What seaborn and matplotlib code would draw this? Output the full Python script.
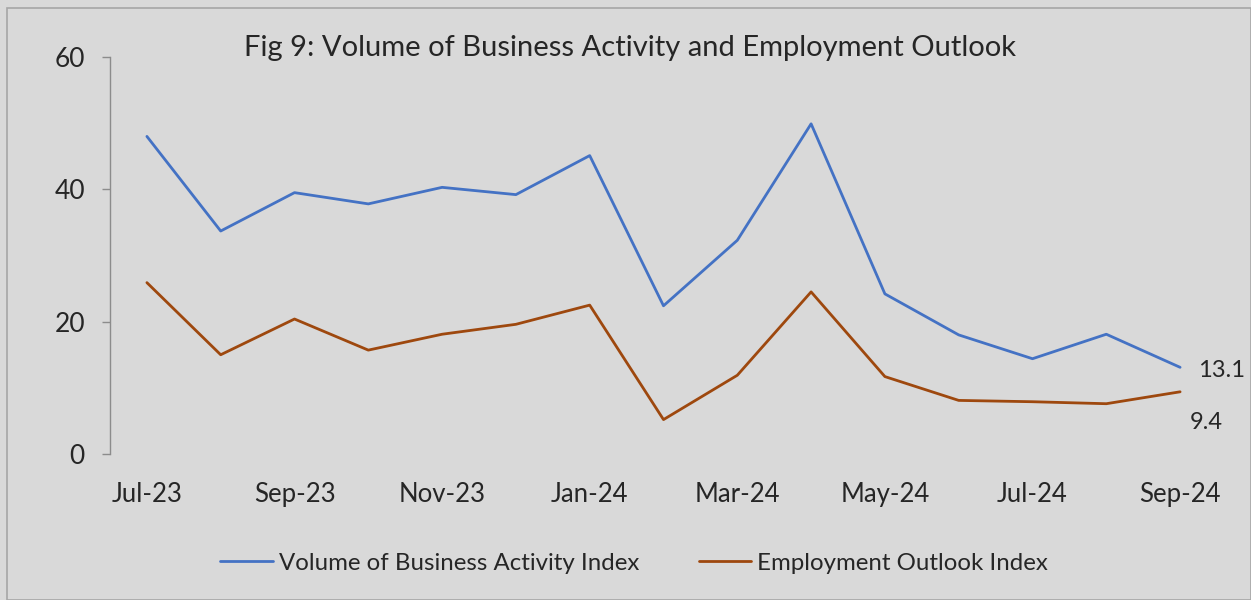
import seaborn as sns
import pandas as pd
import matplotlib.pyplot as plt
from matplotlib.patches import Rectangle

months = ["Jul-23", "Aug-23", "Sep-23", "Oct-23", "Nov-23", "Dec-23", "Jan-24",
          "Feb-24", "Mar-24", "Apr-24", "May-24", "Jun-24", "Jul-24", "Aug-24", "Sep-24"]
business = [48.0, 33.7, 39.5, 37.8, 40.3, 39.2, 45.1, 22.4, 32.3, 49.9, 24.2, 18.0, 14.4, 18.1, 13.1]
employment = [25.9, 15.0, 20.4, 15.7, 18.1, 19.6, 22.5, 5.2, 11.9, 24.5, 11.7, 8.1, 7.9, 7.6, 9.4]
series_names = ["Volume of Business Activity Index", "Employment Outlook Index"]
colors = ["#4472C4", "#9E480E"]

df = pd.DataFrame({
    "pos": list(range(len(months))) * 2,
    "value": business + employment,
    "series": [series_names[0]] * len(months) + [series_names[1]] * len(months),
})

bg = "#D9D9D9"
sns.set_style("white")
plt.rcParams["font.family"] = ["Lato", "DejaVu Sans"]

fig = plt.figure(figsize=(12.51, 6), dpi=100, facecolor=bg)
ax = fig.add_axes([110 / 1251, 1 - 454 / 600, (1217 - 110) / 1251, (454 - 57) / 600])
ax.set_facecolor(bg)

sns.lineplot(data=df, x="pos", y="value", hue="series", palette=colors,
             linewidth=2.0, ax=ax, legend=False)

ax.set_xlim(-0.5, len(months) - 0.5)
ax.set_ylim(0, 60)
ax.set_yticks([0, 20, 40, 60])
ax.set_xticks(range(0, len(months), 2))
ax.set_xticklabels(months[::2])
ax.tick_params(axis="y", labelsize=19, length=6, width=1, color="#8C8C8C", pad=12, left=True)
ax.tick_params(axis="x", labelsize=18.5, length=0, pad=20)
ax.set_xlabel("")
ax.set_ylabel("")
for side in ["top", "right", "bottom"]:
    ax.spines[side].set_visible(False)
ax.spines["left"].set_color("#8C8C8C")
ax.spines["left"].set_linewidth(1)

fig.text(630 / 1251, 1 - 48 / 600, "Fig 9: Volume of Business Activity and Employment Outlook",
         ha="center", va="center", fontsize=21)

# end labels
ax.annotate(f"{business[-1]:.1f}", (len(months) - 1, business[-1]), xytext=(13, -2),
            textcoords="offset points", ha="left", va="center", fontsize=17)
ax.annotate(f"{employment[-1]:.1f}", (len(months) - 1, employment[-1]), xytext=(7, -22),
            textcoords="offset points", ha="left", va="center", fontsize=17)

handles = [plt.Line2D([], [], color=c, linewidth=2.0) for c in colors]
fig.legend(handles, series_names, loc="center", bbox_to_anchor=(0.507, 1 - 563 / 600),
           ncol=2, frameon=False, fontsize=17.3, handlelength=2.17, handletextpad=0.25,
           columnspacing=2.5)

fig.patches.append(Rectangle((7 / 1251, 0), 1 - 7 / 1251, 1 - 8 / 600, transform=fig.transFigure,
                             fill=False, edgecolor="#A6A6A6", linewidth=1.2))

fig.savefig("out.png", dpi=100, facecolor=bg)
